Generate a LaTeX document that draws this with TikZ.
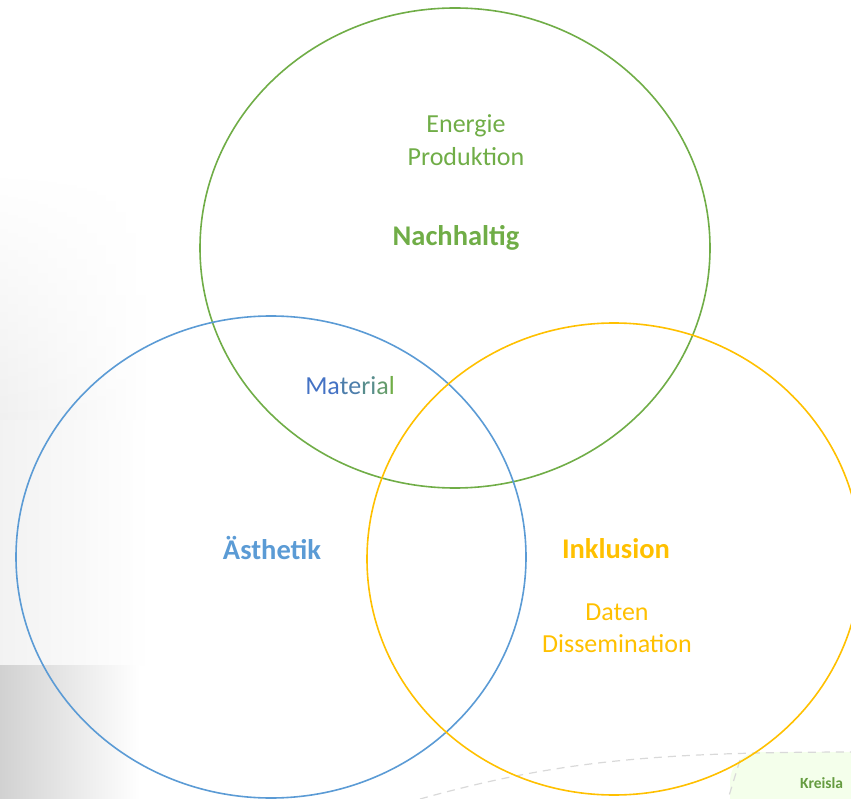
\documentclass[tikz,border=0pt]{standalone}
\usepackage{fontspec}
\setmainfont{Carlito}
\usetikzlibrary{fadings}
\begin{document}
\begin{tikzpicture}[x=1pt,y=-1pt,
  ring/.style={line width=1.6pt},
  lbl/.style={font=\fontsize{26}{31}\selectfont, align=center, inner sep=0pt},
  ttl/.style={font=\fontsize{28.5}{33}\selectfont\bfseries, inner sep=0pt}]
\definecolor{cgreen}{HTML}{70AD47}
\definecolor{cblue}{HTML}{5B9BD5}
\definecolor{cyel}{HTML}{FFC000}
\definecolor{cmat}{HTML}{4472C4}
\useasboundingbox (0,0) rectangle (851,799);
\clip (0,0) rectangle (851,799);
% faded background remnants
\shade[left color=black!6, right color=white, path fading=north] (0,170) rectangle (150,420);
\shade[left color=black!5, right color=white] (0,420) rectangle (150,665);
\shade[left color=black!18, right color=white] (0,665) rectangle (140,799);
\fill[green!40!lime!8, rounded corners=30pt] (730,752) rectangle (900,830);
\draw[black!15, line width=1.2pt, dash pattern=on 8pt off 6pt] (420,799) .. controls (560,760) and (660,752) .. (860,752);
\draw[black!15, line width=1.2pt, dash pattern=on 8pt off 6pt] (740,760) -- (728,799);
\node[font=\fontsize{15.5}{18}\selectfont\bfseries, text=cgreen!90!black, anchor=west, inner sep=0pt] (kr) at (800,783) {Kreisla};
% circles
\draw[ring, cgreen] (455,248) ellipse [x radius=255, y radius=240];
\draw[ring, cblue] (271,557) ellipse [x radius=255, y radius=241];
\draw[ring, cyel] (614,559) ellipse [x radius=247, y radius=236];
% labels
\node[lbl, text=cgreen] (en) at (466,126) {Energie};
\node[lbl, text=cgreen] (pr) at (466,157) {Produktion};
\node[ttl, text=cgreen] (na) at (456,238) {Nachhaltig};
\node[lbl] (ma) at (350,386) {\textcolor{cmat}{Ma}\textcolor{cmat!80!cgreen}{te}\textcolor{cmat!55!cgreen}{ri}\textcolor{cmat!30!cgreen}{a}\textcolor{cgreen}{l}};
\node[ttl, text=cblue] (ae) at (272,548) {Ästhetik};
\node[ttl, text=cyel] (in) at (616,549) {Inklusion};
\node[lbl, text=cyel] (da) at (617,612) {Daten};
\node[lbl, text=cyel] (di) at (617,644) {Dissemination};
\end{tikzpicture}
\end{document}
